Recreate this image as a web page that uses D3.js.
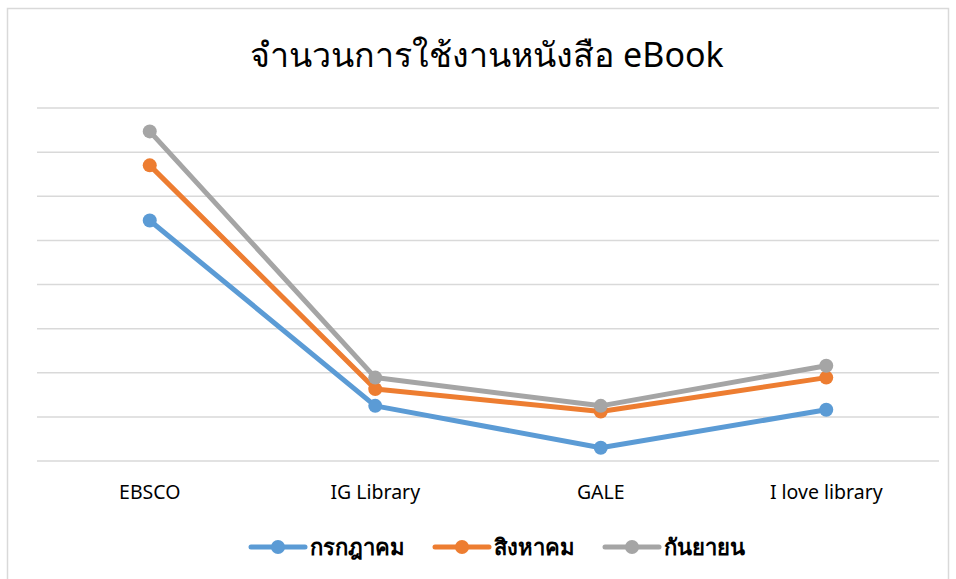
<html>
<head>
<style>
body { margin: 0; padding: 0; background: #fff; }
svg { display: block; }
text { font-family: "Noto Sans", "Open Sans", sans-serif; fill: #000; }
.grid line { stroke: #d9d9d9; stroke-width: 1.5; }
.series path { fill: none; stroke-width: 5; stroke-linejoin: round; stroke-linecap: round; }
</style>
<script src="https://cdnjs.cloudflare.com/ajax/libs/d3/7.8.5/d3.min.js"></script>
</head>
<body>
<svg id="chart" width="956" height="579"></svg>
<script>
var width = 956, height = 579

var categories = ['EBSCO', 'IG Library', 'GALE', 'I love library']
var seriesNames = ['กรกฎาคม', 'สิงหาคม', 'กันยายน']
var julyValues = [545, 125, 30, 116]
var augValues = [670, 163, 112, 189]
var sepValues = [747, 189, 125, 216]
var gridTicks = [0, 100, 200, 300, 400, 500, 600, 700, 800]
var colors = ['#5b9bd5', '#ed7d31', '#a5a5a5']

var series = [
  {name: seriesNames[0], values: julyValues, color: colors[0]},
  {name: seriesNames[1], values: augValues, color: colors[1]},
  {name: seriesNames[2], values: sepValues, color: colors[2]}
]

var margin = {left: 37, right: 17, top: 108, bottom: 118}

var svg = d3.select('#chart')

// chart frame
svg.append('rect')
  .attr('x', 7.5).attr('y', 8.5)
  .attr('width', 941).attr('height', 580)
  .attr('fill', '#fff')
  .attr('stroke', '#d9d9d9')
  .attr('stroke-width', 1.5)

var x = d3.scaleBand()
  .domain(categories)
  .range([margin.left, width - margin.right])

var y = d3.scaleLinear()
  .domain([0, 800])
  .range([height - margin.bottom, margin.top])

svg.append('g').attr('class', 'grid')
  .selectAll('line')
  .data(gridTicks)
  .join('line')
  .attr('x1', margin.left)
  .attr('x2', width - margin.right)
  .attr('y1', function(d) { return y(d) })
  .attr('y2', function(d) { return y(d) })

// category labels
svg.append('g')
  .selectAll('text')
  .data(categories)
  .join('text')
  .attr('x', function(d) { return x(d) + x.bandwidth() / 2 })
  .attr('y', 499)
  .attr('text-anchor', 'middle')
  .style('font-size', '19.5px')
  .text(function(d) { return d })

var line = d3.line()
  .x(function(d, i) { return x(categories[i]) + x.bandwidth() / 2 })
  .y(function(d) { return y(d) })

var g = svg.append('g').attr('class', 'series')
  .selectAll('g')
  .data(series)
  .join('g')

g.append('path')
  .attr('d', function(d) { return line(d.values) })
  .attr('stroke', function(d) { return d.color })

g.selectAll('circle')
  .data(function(d) { return d.values.map(function(v) { return {v: v, color: d.color} }) })
  .join('circle')
  .attr('cx', function(d, i) { return x(categories[i]) + x.bandwidth() / 2 })
  .attr('cy', function(d) { return y(d.v) })
  .attr('r', 7)
  .attr('fill', function(d) { return d.color })

// title
svg.append('text')
  .attr('x', 487)
  .attr('y', 67)
  .attr('text-anchor', 'middle')
  .style('font-size', '34px')
  .text('จำนวนการใช้งานหนังสือ eBook')

// legend
var legend = svg.append('g')
var lx = 0
var gap = 30
var items = legend.selectAll('g')
  .data(series)
  .join('g')
items.each(function(d) {
  var it = d3.select(this)
  it.append('line')
    .attr('x1', 0).attr('x2', 54)
    .attr('y1', 0).attr('y2', 0)
    .attr('stroke', d.color)
    .attr('stroke-width', 5)
    .attr('stroke-linecap', 'round')
  it.append('circle')
    .attr('cx', 27).attr('cy', 0).attr('r', 7)
    .attr('fill', d.color)
  var t = it.append('text')
    .attr('x', 59).attr('y', 8)
    .style('font-size', '22px')
    .style('font-weight', 'bold')
    .text(d.name)
  it.attr('transform', 'translate(' + lx + ',0)')
  lx += 59 + t.node().getComputedTextLength() + gap
})
lx -= gap
legend.attr('transform', 'translate(' + (498 - lx / 2) + ',547)')
</script>
</body>
</html>
